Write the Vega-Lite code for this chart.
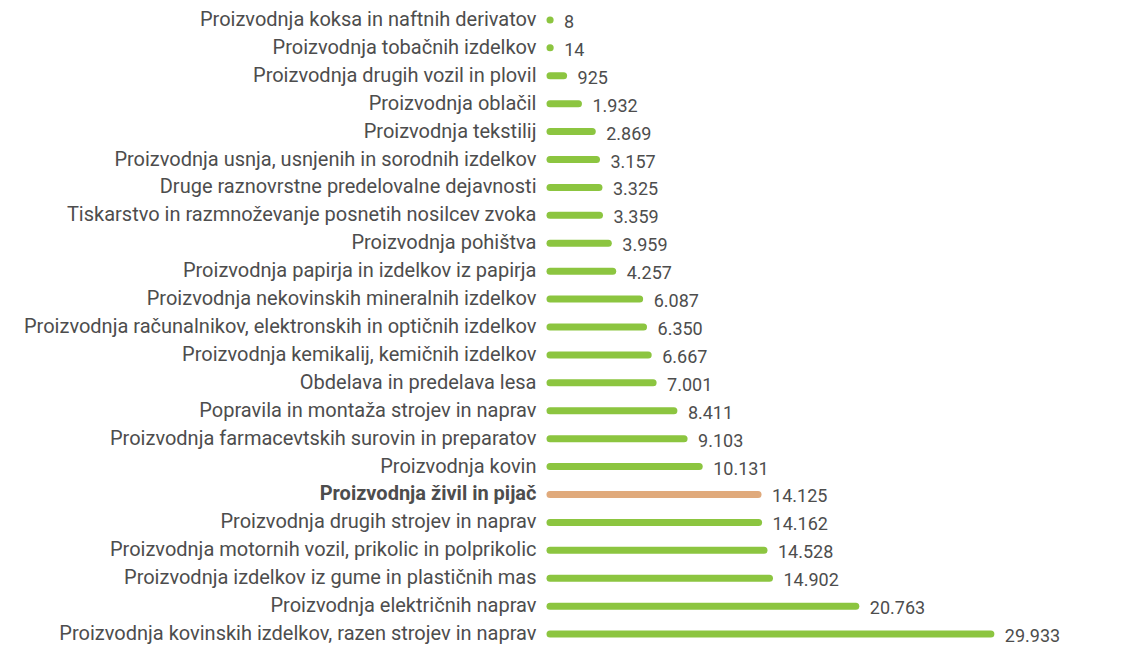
{
  "$schema": "https://vega.github.io/schema/vega-lite/v6.json",
  "autosize": {"type": "none"},
  "padding": {"left": 550, "top": 6, "right": 0, "bottom": 0},
  "width": 570,
  "height": 642,
  "background": "white",
  "config": {
    "view": {"stroke": null},
    "locale": {"number": {"decimal": ",", "thousands": ".", "grouping": [3], "currency": ["", " €"]}}
  },
  "data": {"values": [
    {"sector": "Proizvodnja koksa in naftnih derivatov", "value": 8},
    {"sector": "Proizvodnja tobačnih izdelkov", "value": 14},
    {"sector": "Proizvodnja drugih vozil in plovil", "value": 925},
    {"sector": "Proizvodnja oblačil", "value": 1932},
    {"sector": "Proizvodnja tekstilij", "value": 2869},
    {"sector": "Proizvodnja usnja, usnjenih in sorodnih izdelkov", "value": 3157},
    {"sector": "Druge raznovrstne predelovalne dejavnosti", "value": 3325},
    {"sector": "Tiskarstvo in razmnoževanje posnetih nosilcev zvoka", "value": 3359},
    {"sector": "Proizvodnja pohištva", "value": 3959},
    {"sector": "Proizvodnja papirja in izdelkov iz papirja", "value": 4257},
    {"sector": "Proizvodnja nekovinskih mineralnih izdelkov", "value": 6087},
    {"sector": "Proizvodnja računalnikov, elektronskih in optičnih izdelkov", "value": 6350},
    {"sector": "Proizvodnja kemikalij, kemičnih izdelkov", "value": 6667},
    {"sector": "Obdelava in predelava lesa", "value": 7001},
    {"sector": "Popravila in montaža strojev in naprav", "value": 8411},
    {"sector": "Proizvodnja farmacevtskih surovin in preparatov", "value": 9103},
    {"sector": "Proizvodnja kovin", "value": 10131},
    {"sector": "Proizvodnja živil in pijač", "value": 14125},
    {"sector": "Proizvodnja drugih strojev in naprav", "value": 14162},
    {"sector": "Proizvodnja motornih vozil, prikolic in polprikolic", "value": 14528},
    {"sector": "Proizvodnja izdelkov iz gume in plastičnih mas", "value": 14902},
    {"sector": "Proizvodnja električnih naprav", "value": 20763},
    {"sector": "Proizvodnja kovinskih izdelkov, razen strojev in naprav", "value": 29933}
  ]},
  "encoding": {
    "y": {
      "field": "sector", "type": "nominal", "sort": null, "title": null,
      "scale": {"paddingInner": 0, "paddingOuter": 0},
      "axis": {
        "domain": false, "ticks": false, "grid": false,
        "labelPadding": 14, "labelLimit": 600,
        "labelFont": "Roboto", "labelFontSize": 20,
        "labelColor": "#4d4d4d",
        "labelFontWeight": {"expr": "datum.value === 'Proizvodnja živil in pijač' ? 'bold' : 'normal'"}
      }
    },
    "x": {"field": "value", "type": "quantitative", "scale": {"domain": [0, 38700]}, "axis": null}
  },
  "layer": [
    {
      "mark": {"type": "rule", "strokeWidth": 7, "strokeCap": "round"},
      "encoding": {
        "x2": {"datum": 0},
        "color": {"condition": {"test": "datum.sector === 'Proizvodnja živil in pijač'", "value": "#e0aa7c"}, "value": "#8cc540"}
      }
    },
    {
      "mark": {"type": "text", "align": "left", "baseline": "middle", "dx": 14, "dy": 3, "font": "Roboto", "fontSize": 18, "color": "#4d4d4d"},
      "encoding": {
        "text": {"field": "value", "type": "quantitative", "format": ",d"}
      }
    }
  ]
}
